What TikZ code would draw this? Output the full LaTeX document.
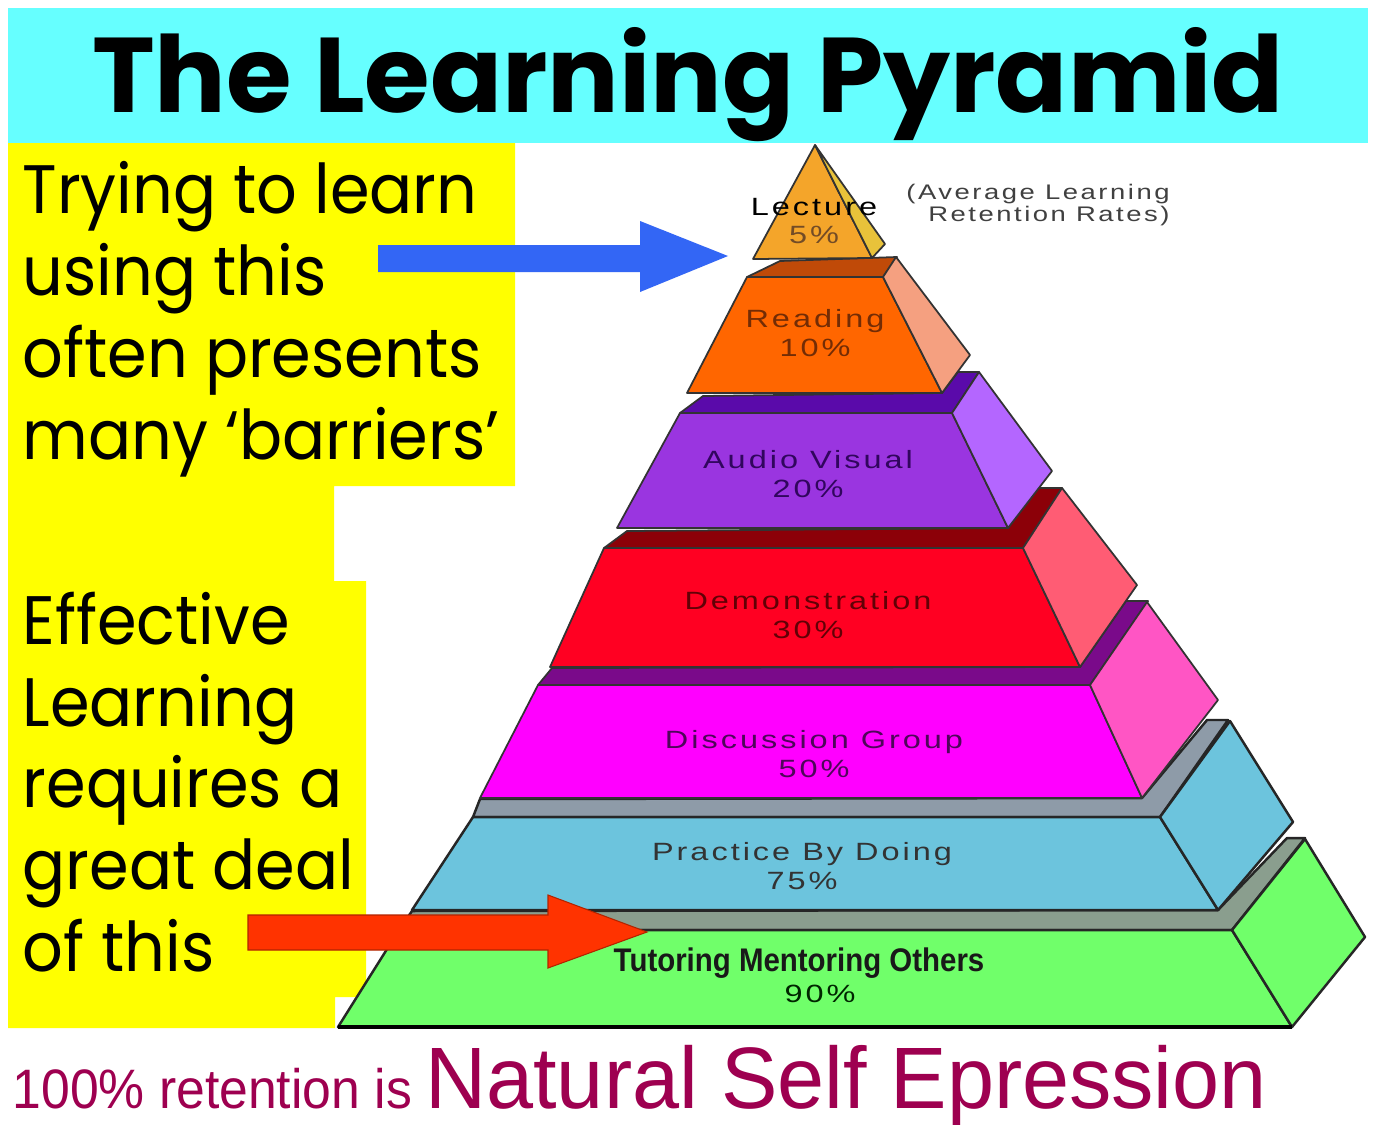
\documentclass[tikz,border=0pt]{standalone}
\usepackage{fontspec}
\usetikzlibrary{positioning}
\newfontfamily\comicfont[FakeStretch=0.93]{Poppins}
\newfontfamily\titlefont{Poppins}
\newfontfamily\tierfont[FakeStretch=1.3,LetterSpace=12]{Liberation Sans}
\newfontfamily\tutorfont[FakeStretch=0.9]{Liberation Sans}
\newfontfamily\smallarial[FakeStretch=0.93]{Liberation Sans}
\newfontfamily\bigarial[FakeStretch=0.97]{Liberation Sans}
\definecolor{Banner}{HTML}{66FFFF}
\definecolor{Panel}{HTML}{FFFF00}
\definecolor{ArrowBlue}{HTML}{3366F5}
\definecolor{ArrowRed}{HTML}{FF3300}
\definecolor{Plum}{HTML}{9E0050}
% tier colours: front, side, top band
\definecolor{GoldFront}{HTML}{F4A52A}
\definecolor{GoldSide}{HTML}{E8C23A}
\definecolor{OrangeFront}{HTML}{FF6600}
\definecolor{OrangeSide}{HTML}{F5A080}
\definecolor{OrangeBand}{HTML}{C04A08}
\definecolor{VioletFront}{HTML}{9A35E0}
\definecolor{VioletSide}{HTML}{B466FF}
\definecolor{VioletBand}{HTML}{5A0AAA}
\definecolor{RedFront}{HTML}{FF0022}
\definecolor{RedSide}{HTML}{FF5C74}
\definecolor{RedBand}{HTML}{8C0008}
\definecolor{PinkFront}{HTML}{FF00FF}
\definecolor{PinkSide}{HTML}{FF55C4}
\definecolor{PinkBand}{HTML}{7A0A8A}
\definecolor{SkyFront}{HTML}{6CC4DD}
\definecolor{SkyBand}{HTML}{8E9BA8}
\definecolor{GreenFront}{HTML}{70FF6A}
\definecolor{GreenBand}{HTML}{8A9E8E}

\begin{document}
\begin{tikzpicture}[
    x=0.01cm, y=-0.01cm,
    face/.style={draw=black!80, line width=0.5pt, line join=round},
    heavyface/.style={draw=black!85, line width=0.7pt, line join=round},
    sidetext/.style={
      font=\comicfont\fontsize{19.5pt}{23.3pt}\selectfont,
      align=left, anchor=north west, inner sep=0pt
    },
    tierlabel/.style={
      font=\tierfont\fontsize{7.1pt}{8pt}\selectfont,
      align=center, inner sep=0pt
    },
    blockarrow/.style={line join=miter}
  ]
    \fill[white] (0,0) rectangle (1374,1124);
    \useasboundingbox (0,0) rectangle (1374,1124);

    % backgrounds
    \fill[Banner] (8,8) rectangle (1368,143);
    \fill[Panel] (8,143) -- (515,143) -- (515,486) -- (334,486) -- (334,581)
      -- (366,581) -- (366,997) -- (335,997) -- (335,1028) -- (8,1028) -- cycle;

    % pyramid, from the base upwards
    \filldraw[heavyface, fill=GreenBand] (399,930) -- (412,911) -- (1218,910)
      -- (1287,838) -- (1305,838) -- (1232,930) -- cycle;
    \filldraw[heavyface, fill=GreenFront] (399,930) -- (1232,930) -- (1292,1027) -- (338,1027) -- cycle;
    \filldraw[heavyface, fill=GreenFront] (1232,930) -- (1305,839) -- (1365,937) -- (1292,1027) -- cycle;
    \draw[line width=1.2pt] (338,1027) -- (1292,1027);

    \filldraw[heavyface, fill=SkyBand] (473,817) -- (480,799) -- (1142,798)
      -- (1207,720) -- (1228,720) -- (1160,817) -- cycle;
    \filldraw[heavyface, fill=SkyFront] (473,817) -- (1160,817) -- (1218,910) -- (412,910) -- cycle;
    \filldraw[heavyface, fill=SkyFront] (1160,817) -- (1230,721) -- (1293,822) -- (1218,910) -- cycle;

    \filldraw[face, fill=PinkBand] (538,685) -- (552,668) -- (1080,667)
      -- (1126,601) -- (1148,601) -- (1090,685) -- cycle;
    \filldraw[face, fill=PinkFront] (538,685) -- (1090,685) -- (1142,798) -- (480,798) -- cycle;
    \filldraw[face, fill=PinkSide] (1090,685) -- (1147,602) -- (1218,700) -- (1142,798) -- cycle;

    \filldraw[face, fill=RedBand] (604,548) -- (627,531) -- (1008,528)
      -- (1037,488) -- (1062,488) -- (1023,548) -- cycle;
    \filldraw[face, fill=RedFront] (604,548) -- (1023,548) -- (1080,667) -- (550,667) -- cycle;
    \filldraw[face, fill=RedSide] (1023,548) -- (1062,488) -- (1137,585) -- (1080,667) -- cycle;

    \filldraw[face, fill=VioletBand] (680,413) -- (703,396) -- (942,393)
      -- (958,372) -- (979,372) -- (952,413) -- cycle;
    \filldraw[face, fill=VioletFront] (680,413) -- (952,413) -- (1008,528) -- (617,528) -- cycle;
    \filldraw[face, fill=VioletSide] (952,413) -- (979,372) -- (1052,471) -- (1008,528) -- cycle;

    \filldraw[face, fill=OrangeBand] (747,277) -- (780,261) -- (897,257) -- (883,277) -- cycle;
    \filldraw[face, fill=OrangeFront] (747,277) -- (883,277) -- (942,393) -- (687,393) -- cycle;
    \filldraw[face, fill=OrangeSide] (883,277) -- (896,257) -- (970,355) -- (942,393) -- cycle;

    \filldraw[face, fill=GoldFront] (815,145) -- (872,258) -- (753,259) -- cycle;
    \filldraw[face, fill=GoldSide] (815,145) -- (885,244) -- (872,258) -- cycle;

    % block arrows
    \fill[blockarrow, ArrowBlue] (378,245) -- (640,245) -- (640,221) -- (728,256)
      -- (640,292) -- (640,272) -- (378,272) -- cycle;
    \filldraw[blockarrow, fill=ArrowRed, draw=ArrowRed!70!black, line width=0.3pt]
      (248,915) -- (548,915) -- (548,895) -- (647,932) -- (548,968) -- (548,950) -- (248,950) -- cycle;

    % texts
    \node[font=\titlefont\bfseries\fontsize{30.2pt}{34pt}\selectfont, anchor=base] (title)
      at (688,112) {The Learning Pyramid};
    \node[sidetext] (barriers) at (22,161)
      {Trying to learn\\ using this\\ often presents\\ many ‘barriers’};
    \node[sidetext] (effective) at (22,591)
      {Effective\\ Learning\\ requires a\\ great deal\\ of this};

    \node[tierlabel] (lecture) at (814,221) {\textcolor{black}{Lecture}\\ \textcolor{brown!60!black}{5\%}};
    \node[tierlabel, text=OrangeBand!60!black] (reading) at (815,333) {Reading\\ 10\%};
    \node[tierlabel, text=VioletBand!55!black] (audio) at (808,474) {Audio Visual\\ 20\%};
    \node[tierlabel, text=RedBand!70!black] (demo) at (808,615) {Demonstration\\ 30\%};
    \node[tierlabel, text=PinkBand!65!black] (discussion) at (814,754) {Discussion Group\\ 50\%};
    \node[tierlabel, text=black!80] (practice) at (802,866) {Practice By Doing\\ 75\%};
    \node[font=\tutorfont\bfseries\fontsize{9.3pt}{10pt}\selectfont, anchor=base, inner sep=0pt,
      text=black!90] (tutoring) at (799,971) {Tutoring Mentoring Others};
    \node[tierlabel, anchor=base, text=black!75!green!60!black] (ninety) at (820,1002) {90\%};
    \node[tierlabel, align=right, text=black!75, font=\tierfont\fontsize{6pt}{6.4pt}\selectfont]
      (rates) at (1038,205) {(Average Learning\\ Retention Rates)};

    \node[font=\smallarial\fontsize{15.8pt}{17pt}\selectfont, text=Plum, anchor=base west,
      inner sep=0pt] (retention) at (12,1108) {100\% retention is};
    \node[font=\bigarial\fontsize{24.8pt}{27pt}\selectfont, text=Plum, inner sep=0pt,
      base right=3.4pt of retention] (selfexp) {Natural Self Epression};
  \end{tikzpicture}
\end{document}
